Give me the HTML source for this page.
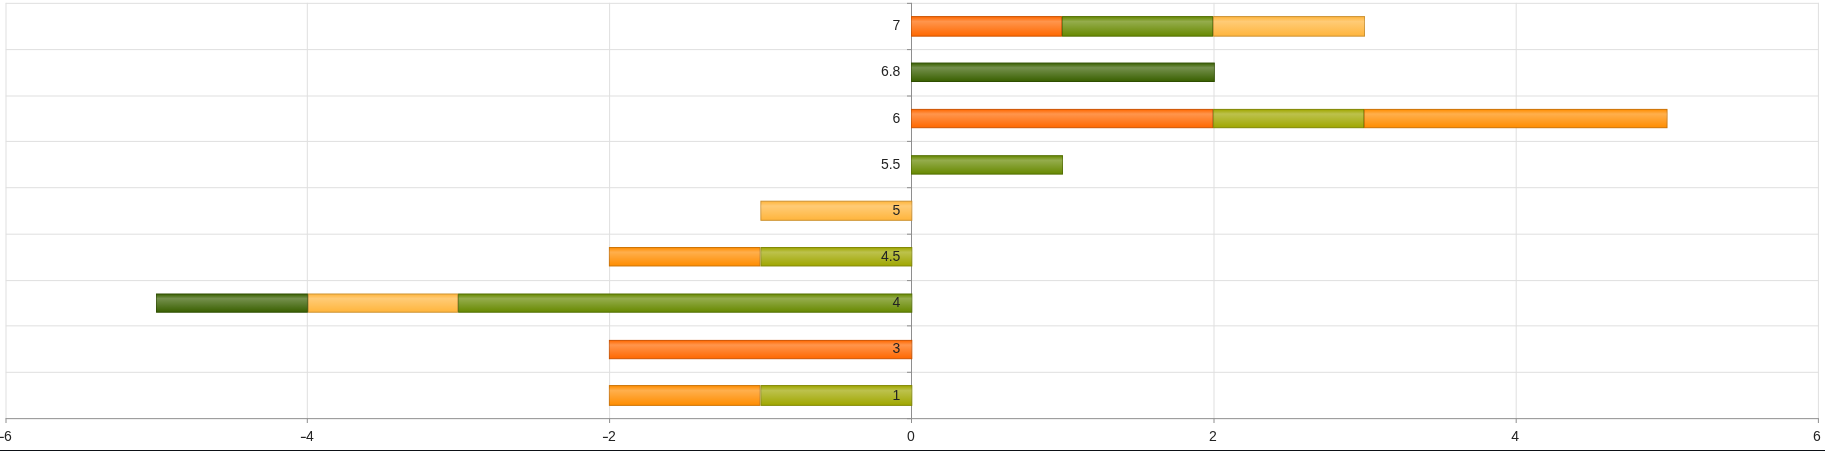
<!DOCTYPE html>
<html><head><meta charset="utf-8"><title>chart</title>
<style>html,body{margin:0;padding:0;background:#fff;overflow:hidden}body{width:1825px;height:451px;position:relative;font-family:"Liberation Sans",sans-serif}</style></head>
<body>
<svg width="1825" height="451" viewBox="0 0 1825 451" style="position:absolute;left:0;top:0">
<defs><linearGradient id="gl" x1="0" y1="0" x2="0" y2="1"><stop offset="0" stop-color="#fff" stop-opacity="0"/><stop offset="0.25" stop-color="#fff" stop-opacity="0.3"/><stop offset="1" stop-color="#fff" stop-opacity="0"/></linearGradient></defs>
<rect x="0" y="0" width="1825" height="451" fill="#fff"/>
<g stroke="#dfdfdf" stroke-width="1" fill="none"><path d="M6.00 2.85V418.65"/><path d="M307.30 2.85V418.65"/><path d="M609.60 2.85V418.65"/><path d="M1214.00 2.85V418.65"/><path d="M1516.20 2.85V418.65"/><path d="M1818.40 2.85V418.65"/><path d="M5.80 3.35H1818.90"/><path d="M5.80 49.60H1818.90"/><path d="M5.80 96.00H1818.90"/><path d="M5.80 141.40H1818.90"/><path d="M5.80 187.70H1818.90"/><path d="M5.80 234.20H1818.90"/><path d="M5.80 280.60H1818.90"/><path d="M5.80 325.85H1818.90"/><path d="M5.80 372.30H1818.90"/></g>
<g stroke="#8e8e8e" stroke-width="1" fill="none"><path d="M911.5 2.85V418.65"/><path d="M5.50 418.65H1818.90"/><path d="M6.00 418.65V423"/><path d="M307.30 418.65V423"/><path d="M609.60 418.65V423"/><path d="M911.50 418.65V423"/><path d="M1214.00 418.65V423"/><path d="M1516.20 418.65V423"/><path d="M1818.40 418.65V423"/><path d="M907 3.35H911.5"/><path d="M907 49.60H911.5"/><path d="M907 96.00H911.5"/><path d="M907 141.40H911.5"/><path d="M907 187.70H911.5"/><path d="M907 234.20H911.5"/><path d="M907 280.60H911.5"/><path d="M907 325.85H911.5"/><path d="M907 372.30H911.5"/><path d="M907 418.65H911.5"/></g>
<rect x="911.50" y="16.60" width="150.00" height="19.55" fill="#ff6800" stroke="#cc5300"/>
<rect x="911.50" y="16.60" width="150.00" height="19.55" fill="url(#gl)"/>
<rect x="1062.50" y="16.60" width="150.00" height="19.55" fill="#678900" stroke="#526e00"/>
<rect x="1062.50" y="16.60" width="150.00" height="19.55" fill="url(#gl)"/>
<rect x="1213.50" y="16.60" width="151.00" height="19.55" fill="#ffb53c" stroke="#cc9130"/>
<rect x="1213.50" y="16.60" width="151.00" height="19.55" fill="url(#gl)"/>
<rect x="911.50" y="63.05" width="302.80" height="18.45" fill="#396000" stroke="#2e4d00"/>
<rect x="911.50" y="63.05" width="302.80" height="18.45" fill="url(#gl)"/>
<rect x="911.50" y="109.40" width="301.10" height="18.30" fill="#ff6800" stroke="#cc5300"/>
<rect x="911.50" y="109.40" width="301.10" height="18.30" fill="url(#gl)"/>
<rect x="1213.60" y="109.40" width="149.90" height="18.30" fill="#a0a700" stroke="#808600"/>
<rect x="1213.60" y="109.40" width="149.90" height="18.30" fill="url(#gl)"/>
<rect x="1364.50" y="109.40" width="302.50" height="18.30" fill="#ff8d00" stroke="#cc7100"/>
<rect x="1364.50" y="109.40" width="302.50" height="18.30" fill="url(#gl)"/>
<rect x="911.50" y="155.70" width="151.00" height="18.40" fill="#678900" stroke="#526e00"/>
<rect x="911.50" y="155.70" width="151.00" height="18.40" fill="url(#gl)"/>
<rect x="760.90" y="201.20" width="150.90" height="19.10" fill="#ffb53c" stroke="#cc9130"/>
<rect x="760.90" y="201.20" width="150.90" height="19.10" fill="url(#gl)"/>
<rect x="609.40" y="247.55" width="150.50" height="18.40" fill="#ff8d00" stroke="#cc7100"/>
<rect x="609.40" y="247.55" width="150.50" height="18.40" fill="url(#gl)"/>
<rect x="761.05" y="247.55" width="150.75" height="18.40" fill="#a0a700" stroke="#808600"/>
<rect x="761.05" y="247.55" width="150.75" height="18.40" fill="url(#gl)"/>
<rect x="156.50" y="294.00" width="150.90" height="18.20" fill="#396000" stroke="#2e4d00"/>
<rect x="156.50" y="294.00" width="150.90" height="18.20" fill="url(#gl)"/>
<rect x="308.40" y="294.00" width="149.20" height="18.20" fill="#ffb53c" stroke="#cc9130"/>
<rect x="308.40" y="294.00" width="149.20" height="18.20" fill="url(#gl)"/>
<rect x="458.60" y="294.00" width="453.20" height="18.20" fill="#678900" stroke="#526e00"/>
<rect x="458.60" y="294.00" width="453.20" height="18.20" fill="url(#gl)"/>
<rect x="609.40" y="340.40" width="302.40" height="18.30" fill="#ff6800" stroke="#cc5300"/>
<rect x="609.40" y="340.40" width="302.40" height="18.30" fill="url(#gl)"/>
<rect x="609.40" y="385.60" width="150.50" height="19.75" fill="#ff8d00" stroke="#cc7100"/>
<rect x="609.40" y="385.60" width="150.50" height="19.75" fill="url(#gl)"/>
<rect x="761.05" y="385.60" width="150.75" height="19.75" fill="#a0a700" stroke="#808600"/>
<rect x="761.05" y="385.60" width="150.75" height="19.75" fill="url(#gl)"/>
<rect x="0" y="450" width="1825" height="1" fill="#0d1116"/>
</svg>
<svg width="1825" height="451" viewBox="0 0 1825 451" style="position:absolute;left:0;top:0;will-change:transform">
<g font-family="'Liberation Sans', sans-serif" font-size="14" fill="#232323"><text x="900.4" y="29.93" text-anchor="end">7</text><text x="900.4" y="75.93" text-anchor="end">6.8</text><text x="900.4" y="123.00" text-anchor="end">6</text><text x="900.4" y="168.93" text-anchor="end">5.5</text><text x="900.4" y="214.93" text-anchor="end">5</text><text x="900.4" y="260.93" text-anchor="end">4.5</text><text x="900.4" y="307.00" text-anchor="end">4</text><text x="900.4" y="353.00" text-anchor="end">3</text><text x="900.4" y="399.93" text-anchor="end">1</text><text x="910.9" y="441.3" text-anchor="middle">0</text><text x="1213.0" y="441.3" text-anchor="middle">2</text><text x="1515.1" y="441.3" text-anchor="middle">4</text><text x="1816.8" y="441.3" text-anchor="middle">6</text><text x="4.03" y="441.3">6</text><rect x="-1.12" y="436.8" width="4.9" height="1.2"/><text x="306.04" y="441.3">4</text><rect x="300.89" y="436.8" width="4.9" height="1.2"/><text x="608.10" y="441.3">2</text><rect x="602.95" y="436.8" width="4.9" height="1.2"/></g>
</svg>
</body></html>
